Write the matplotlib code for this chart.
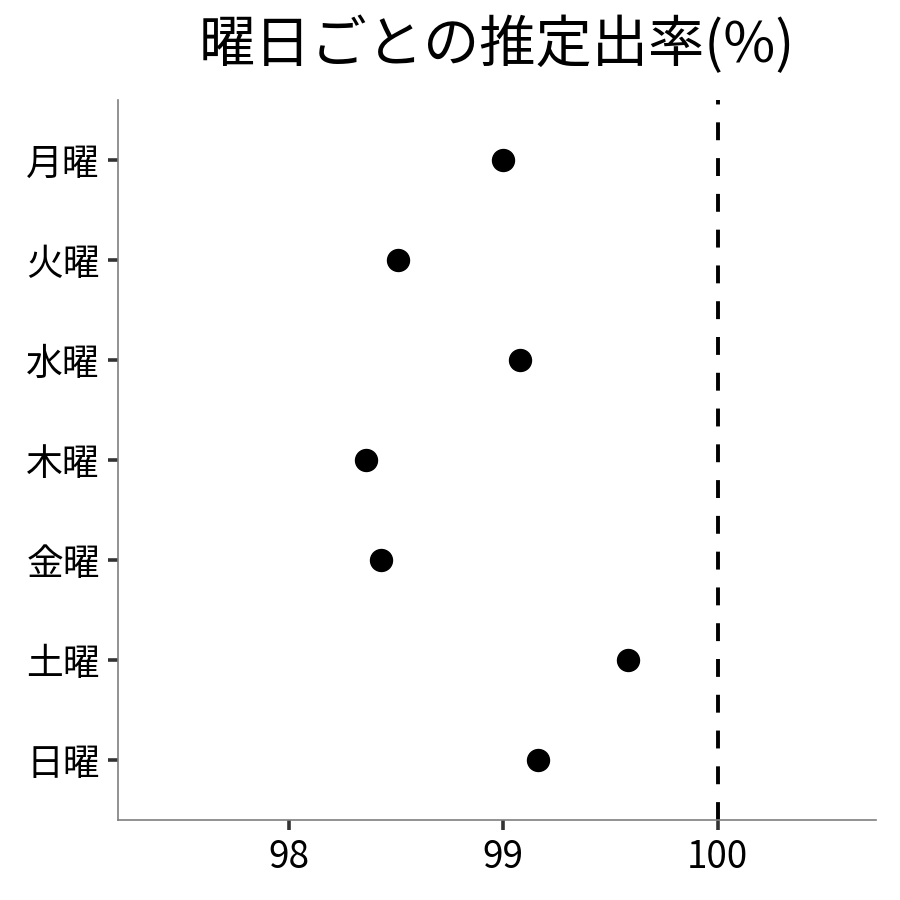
import matplotlib
matplotlib.use("Agg")
import matplotlib.pyplot as plt

plt.rcParams["font.family"] = ["Noto Sans CJK JP", "DejaVu Sans"]

days = ["月曜", "火曜", "水曜", "木曜", "金曜", "土曜", "日曜"]
rates = [99.00, 98.51, 99.08, 98.36, 98.43, 99.58, 99.16]
xticks = [98, 99, 100]

fig = plt.figure(figsize=(9, 9), dpi=100)
ax = fig.add_axes([0.131, 0.089, 0.842, 0.8])

ax.scatter(rates, range(len(days)), s=250, color="black", zorder=3)
ax.axvline(100, color="black", lw=2.8, dashes=(4.6, 4.6), zorder=2)

ax.set_yticks(range(len(days)))
ax.set_yticklabels(days)
ax.set_ylim(len(days) - 0.4, -0.6)
ax.set_xticks(xticks)
ax.set_xlim(97.203, 100.737)

for s in ["top", "right"]:
    ax.spines[s].set_visible(False)
for s in ["left", "bottom"]:
    ax.spines[s].set_color("#7f7f7f")
    ax.spines[s].set_linewidth(1.2)

ax.tick_params(axis="both", length=7, width=2.6, color="#333333",
               labelsize=26.5, pad=6)

ax.set_title("曜日ごとの推定出率(%)", fontsize=40.5, pad=27)

fig.savefig("out.png", dpi=100)
